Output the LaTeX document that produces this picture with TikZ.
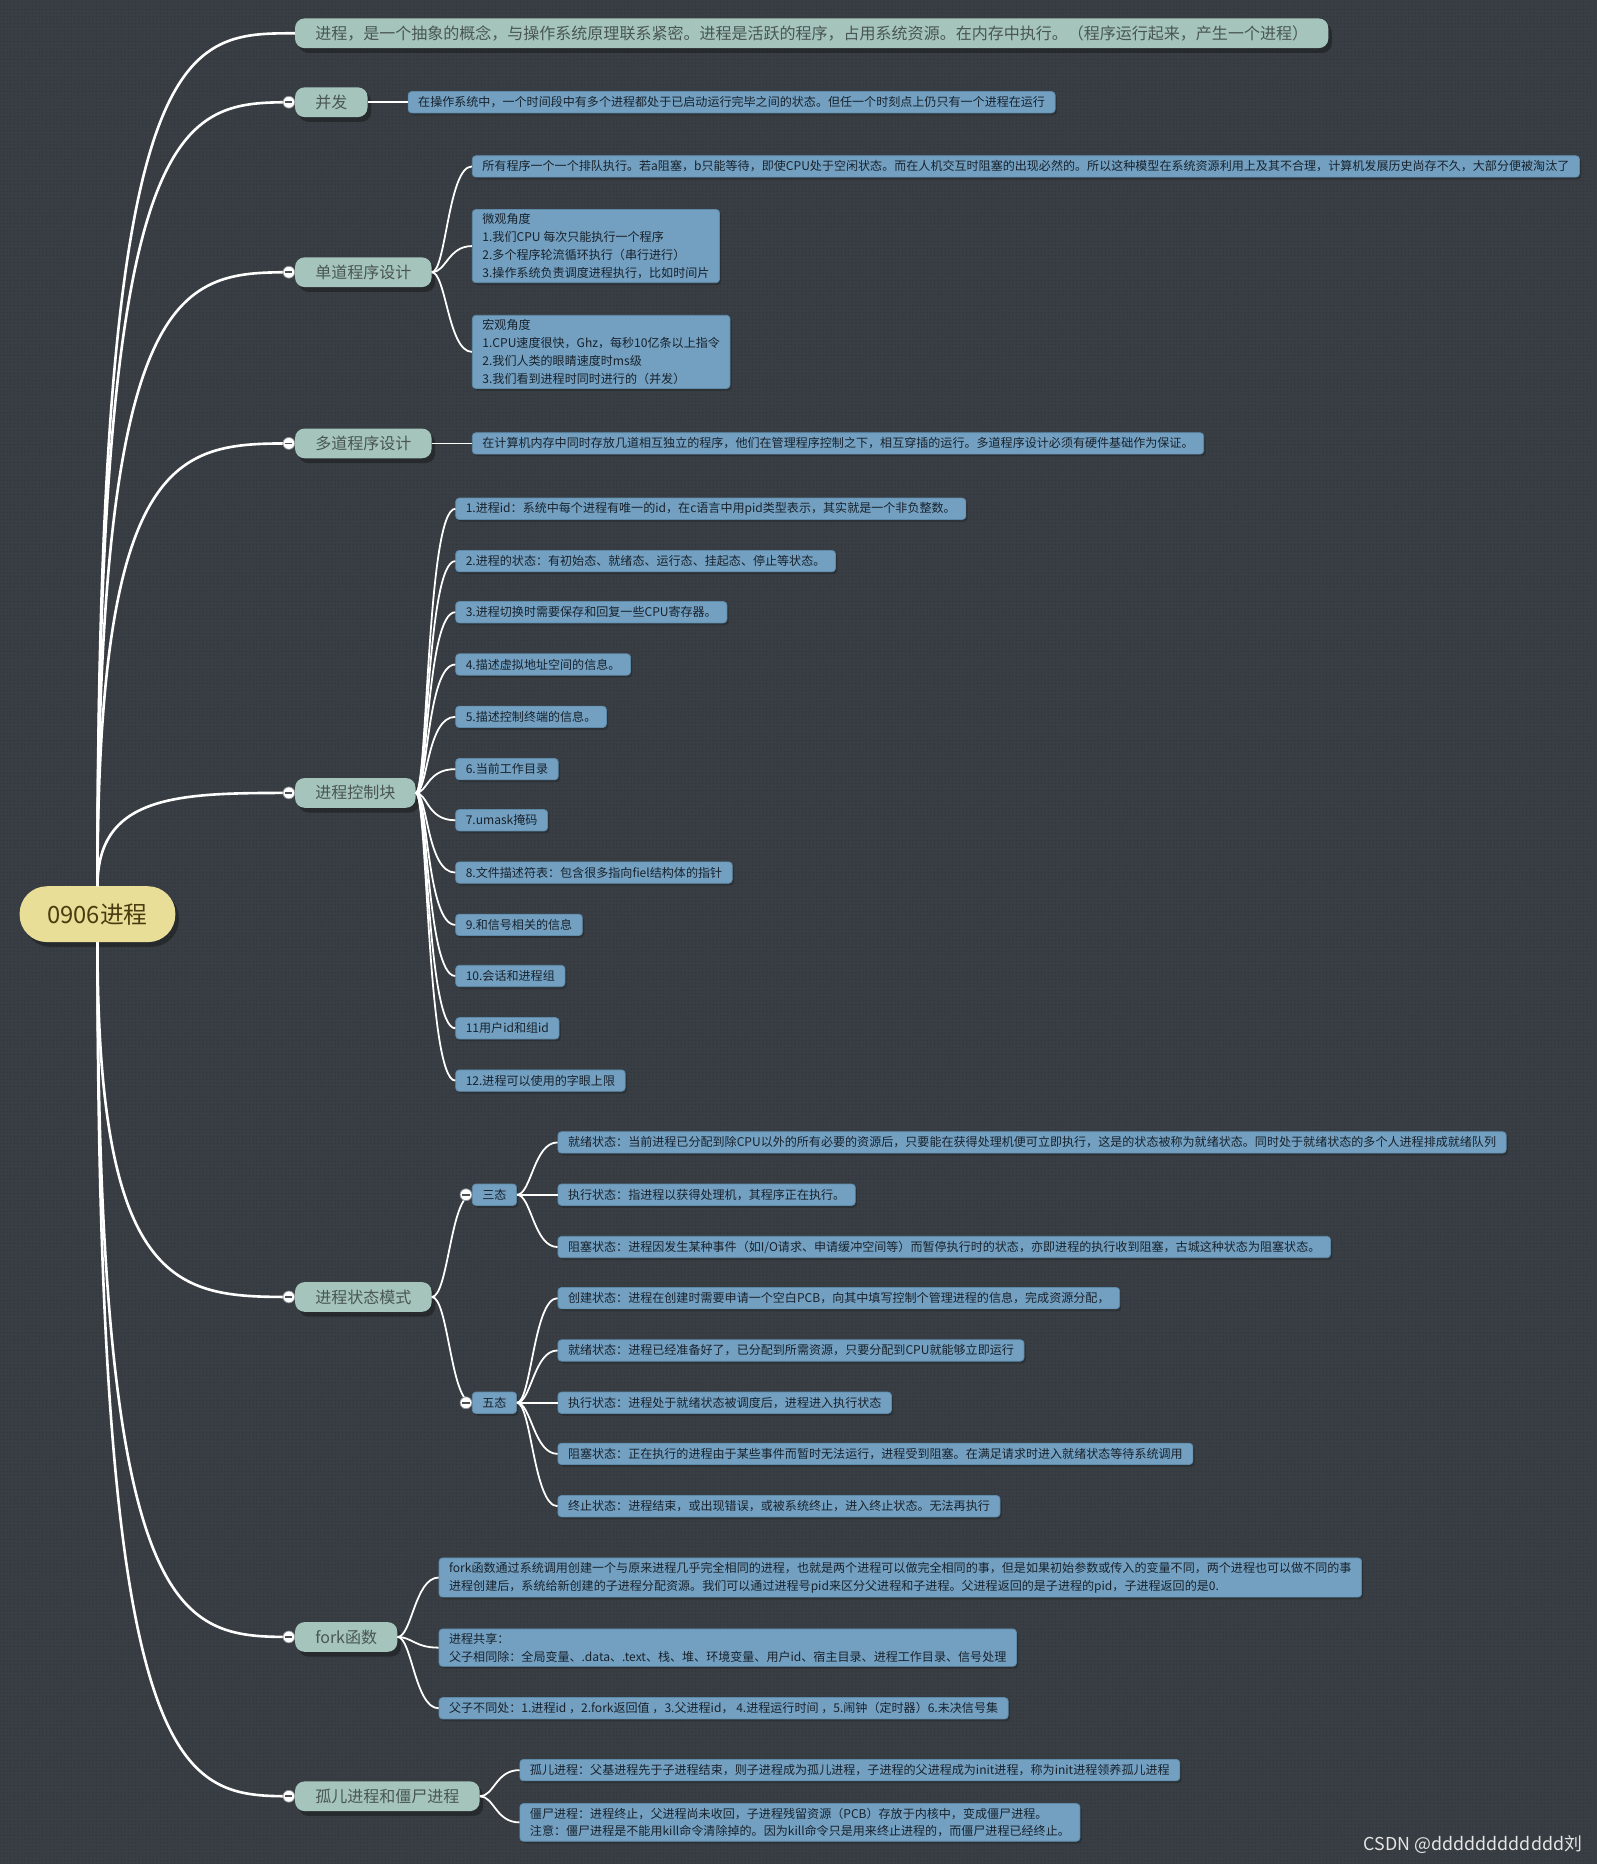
\documentclass[tikz,border=0pt]{standalone}
\usepackage{fontspec}
\setmainfont{Noto Sans CJK SC}
\usetikzlibrary{shadows,patterns}

\definecolor{bg}{HTML}{383E43}
\definecolor{dotc}{HTML}{2F3439}
\definecolor{lvone}{HTML}{A4C4BC}
\definecolor{lvonetext}{HTML}{4A5653}
\definecolor{rootfill}{HTML}{E9DE97}
\definecolor{roottext}{HTML}{4A3C10}
\definecolor{bluefill}{HTML}{73A0C1}
\definecolor{blueline}{HTML}{5E8AAA}
\definecolor{bluetext}{HTML}{18222C}
\definecolor{foldline}{HTML}{8A8F93}
\definecolor{foldminus}{HTML}{4A4F53}

\tikzset{
  rootnode/.style={fill=rootfill, text=roottext, rounded corners=23pt,
    minimum height=47pt, minimum width=131pt, inner sep=0pt,
    font=\fontsize{20}{24}\selectfont,
    drop shadow={shadow xshift=3pt, shadow yshift=-4pt, fill=black, opacity=0.3}},
  topic/.style={anchor=west, fill=lvone, text=lvonetext, rounded corners=8pt,
    minimum height=25pt, inner xsep=17pt, inner ysep=0pt,
    font=\fontsize{13.47}{16}\selectfont,
    drop shadow={shadow xshift=3pt, shadow yshift=-4pt, fill=black, opacity=0.3}},
  leaf/.style={anchor=west, fill=bluefill, draw=blueline, line width=0.6pt,
    rounded corners=3pt, minimum height=18pt, inner xsep=8.5pt, inner ysep=3.5pt,
    text=bluetext, font=\fontsize{10.14}{15}\selectfont, align=left,
    drop shadow={shadow xshift=1.5pt, shadow yshift=-2pt, fill=black, opacity=0.18}},
  conn/.style={draw=white, line width=1.5pt},
  trunk/.style={draw=white, line width=2.2pt},
  fold/.style={circle, fill=white, draw=foldline, line width=0.6pt,
    minimum size=10pt, inner sep=0pt,
    path picture={\draw[line width=1.3pt, foldminus]
      ([xshift=-3pt]path picture bounding box.center) --
      ([xshift=3pt]path picture bounding box.center);}}
}

\begin{document}
\begin{tikzpicture}[x=1pt, y=-1pt]
\useasboundingbox (0,0) rectangle (1343,1568);
\fill[bg] (0,0) rectangle (1343,1568);
\fill[pattern=dots, pattern color=dotc] (0,0) rectangle (1343,1568);

% root and main topics
\node[rootnode] (root) at (82,769) {0906进程};
\node[topic] (A) at (248,28) {进程，是一个抽象的概念，与操作系统原理联系紧密。进程是活跃的程序，占用系统资源。在内存中执行。（程序运行起来，产生一个进程）};
\node[topic] (B) at (248,86) {并发};
\node[topic] (C) at (248,229) {单道程序设计};
\node[topic] (D) at (248,373) {多道程序设计};
\node[topic] (E) at (248,667) {进程控制块};
\node[topic] (F) at (248,1091) {进程状态模式};
\node[topic] (G) at (248,1377) {fork函数};
\node[topic] (H) at (248,1511) {孤儿进程和僵尸进程};

% leaves
\node[leaf] (B1) at (343,86) {在操作系统中，一个时间段中有多个进程都处于已启动运行完毕之间的状态。但任一个时刻点上仍只有一个进程在运行};
\node[leaf] (C1) at (397,140) {所有程序一个一个排队执行。若a阻塞，b只能等待，即使CPU处于空闲状态。而在人机交互时阻塞的出现必然的。所以这种模型在系统资源利用上及其不合理，计算机发展历史尚存不久，大部分便被淘汰了};
\node[leaf] (C2) at (397,207) {微观角度\\1.我们CPU 每次只能执行一个程序\\2.多个程序轮流循环执行（串行进行）\\3.操作系统负责调度进程执行，比如时间片};
\node[leaf] (C3) at (397,296) {宏观角度\\1.CPU速度很快，Ghz，每秒10亿条以上指令\\2.我们人类的眼睛速度时ms级\\3.我们看到进程时同时进行的（并发）};
\node[leaf] (D1) at (397,373) {在计算机内存中同时存放几道相互独立的程序，他们在管理程序控制之下，相互穿插的运行。多道程序设计必须有硬件基础作为保证。};

\node[leaf] (E1) at (383,428) {1.进程id：系统中每个进程有唯一的id，在c语言中用pid类型表示，其实就是一个非负整数。};
\node[leaf] (E2) at (383,472) {2.进程的状态：有初始态、就绪态、运行态、挂起态、停止等状态。};
\node[leaf] (E3) at (383,515) {3.进程切换时需要保存和回复一些CPU寄存器。};
\node[leaf] (E4) at (383,559) {4.描述虚拟地址空间的信息。};
\node[leaf] (E5) at (383,603) {5.描述控制终端的信息。};
\node[leaf] (E6) at (383,647) {6.当前工作目录};
\node[leaf] (E7) at (383,690) {7.umask掩码};
\node[leaf] (E8) at (383,734) {8.文件描述符表：包含很多指向fiel结构体的指针};
\node[leaf] (E9) at (383,778) {9.和信号相关的信息};
\node[leaf] (E10) at (383,821) {10.会话和进程组};
\node[leaf] (E11) at (383,865) {11用户id和组id};
\node[leaf] (E12) at (383,909) {12.进程可以使用的字眼上限};

\node[leaf] (S3) at (397,1005) {三态};
\node[leaf] (S5) at (397,1180) {五态};

\node[leaf] (T1) at (469,961) {就绪状态：当前进程已分配到除CPU以外的所有必要的资源后，只要能在获得处理机便可立即执行，这是的状态被称为就绪状态。同时处于就绪状态的多个人进程排成就绪队列};
\node[leaf] (T2) at (469,1005) {执行状态：指进程以获得处理机，其程序正在执行。};
\node[leaf] (T3) at (469,1049) {阻塞状态：进程因发生某种事件（如I/O请求、申请缓冲空间等）而暂停执行时的状态，亦即进程的执行收到阻塞，古城这种状态为阻塞状态。};

\node[leaf] (P1) at (469,1092) {创建状态：进程在创建时需要申请一个空白PCB，向其中填写控制个管理进程的信息，完成资源分配，};
\node[leaf] (P2) at (469,1136) {就绪状态：进程已经准备好了，已分配到所需资源，只要分配到CPU就能够立即运行};
\node[leaf] (P3) at (469,1180) {执行状态：进程处于就绪状态被调度后，进程进入执行状态};
\node[leaf] (P4) at (469,1223) {阻塞状态：正在执行的进程由于某些事件而暂时无法运行，进程受到阻塞。在满足请求时进入就绪状态等待系统调用};
\node[leaf] (P5) at (469,1267) {终止状态：进程结束，或出现错误，或被系统终止，进入终止状态。无法再执行};

\node[leaf] (G1) at (369,1327) {fork函数通过系统调用创建一个与原来进程几乎完全相同的进程，也就是两个进程可以做完全相同的事，但是如果初始参数或传入的变量不同，两个进程也可以做不同的事\\进程创建后，系统给新创建的子进程分配资源。我们可以通过进程号pid来区分父进程和子进程。父进程返回的是子进程的pid，子进程返回的是0.};
\node[leaf] (G2) at (369,1386) {进程共享：\\父子相同除：全局变量、.data、.text、栈、堆、环境变量、用户id、宿主目录、进程工作目录、信号处理};
\node[leaf] (G3) at (369,1437) {父子不同处：1.进程id ，2.fork返回值 ，3.父进程id， 4.进程运行时间 ，5.闹钟（定时器）6.未决信号集};

\node[leaf] (H1) at (437,1489) {孤儿进程：父基进程先于子进程结束，则子进程成为孤儿进程，子进程的父进程成为init进程，称为init进程领养孤儿进程};
\node[leaf] (H2) at (437,1533) {僵尸进程：进程终止，父进程尚未收回，子进程残留资源（PCB）存放于内核中，变成僵尸进程。\\注意：僵尸进程是不能用kill命令清除掉的。因为kill命令只是用来终止进程的，而僵尸进程已经终止。};

% connectors from root
\foreach \n in {A,B,C,D,E}{
  \draw[trunk] (root.north) .. controls (root.north |- \n.west) and ([xshift=-95pt]\n.west) .. (\n.west);
}
\foreach \n in {F,G,H}{
  \draw[trunk] (root.south) .. controls (root.south |- \n.west) and ([xshift=-95pt]\n.west) .. (\n.west);
}

% straight connectors
\draw[conn] (B.east) -- (B1.west);
\draw[conn] (D.east) -- (D1.west);

% curved connectors
\foreach \c in {C1,C2,C3}{
  \draw[conn] (C.east) .. controls +(12pt,0) and +(-20pt,0) .. (\c.west);
}
\foreach \c in {E1,E2,E3,E4,E5,E6,E7,E8,E9,E10,E11,E12}{
  \draw[conn] (E.east) .. controls +(10pt,0) and +(-24pt,0) .. (\c.west);
}
\foreach \c in {S3,S5}{
  \draw[conn] (F.east) .. controls +(14pt,0) and +(-18pt,0) .. (\c.west);
}
\foreach \c in {T1,T2,T3}{
  \draw[conn] (S3.east) .. controls +(12pt,0) and +(-20pt,0) .. (\c.west);
}
\foreach \c in {P1,P2,P3,P4,P5}{
  \draw[conn] (S5.east) .. controls +(12pt,0) and +(-20pt,0) .. (\c.west);
}
\foreach \c in {G1,G2,G3}{
  \draw[conn] (G.east) .. controls +(12pt,0) and +(-20pt,0) .. (\c.west);
}
\foreach \c in {H1,H2}{
  \draw[conn] (H.east) .. controls +(12pt,0) and +(-20pt,0) .. (\c.west);
}

% fold markers
\node[fold] (fB) at (243,86) {};
\node[fold] (fC) at (243,229) {};
\node[fold] (fD) at (243,373) {};
\node[fold] (fE) at (243,667) {};
\node[fold] (fF) at (243,1091) {};
\node[fold] (fG) at (243,1377) {};
\node[fold] (fH) at (243,1511) {};
\node[fold] (fS3) at (392,1005) {};
\node[fold] (fS5) at (392,1180) {};

% watermark
\node[anchor=east, text=white!80!gray, inner sep=0pt, font=\fontsize{15}{18}\selectfont] (wm) at (1331,1552) {CSDN @dddddddddddd刘};
\end{tikzpicture}
\end{document}
